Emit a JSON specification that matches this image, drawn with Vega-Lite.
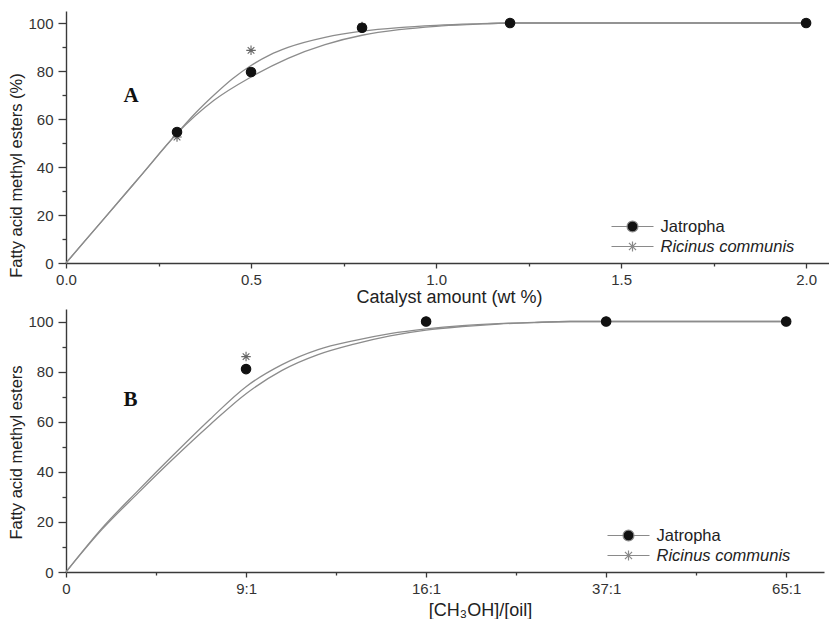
{
  "$schema": "https://vega.github.io/schema/vega-lite/v6.json",
  "padding": {"left": 8, "top": 11, "right": 0, "bottom": 0},
  "background": "white",
  "spacing": 3,
  "config": {
    "view": {"stroke": null},
    "font": "Liberation Sans",
    "axis": {
      "grid": false,
      "domainColor": "#3a3a3a",
      "domainWidth": 1.4,
      "tickColor": "#3a3a3a",
      "tickWidth": 1.3,
      "labelFont": "Liberation Sans",
      "labelFontSize": 15,
      "labelColor": "#333333",
      "titleFont": "Liberation Sans",
      "titleFontSize": 16.5,
      "titleFontWeight": "normal",
      "titleColor": "#222222"
    },
    "axisX": {"titleFontSize": 18}
  },
  "datasets": {
    "curvesA": [
      {"series": "Ricinus communis", "x": 0, "y": 0},
      {"series": "Ricinus communis", "x": 0.1, "y": 18},
      {"series": "Ricinus communis", "x": 0.2, "y": 36},
      {"series": "Ricinus communis", "x": 0.3, "y": 54},
      {"series": "Ricinus communis", "x": 0.35, "y": 62.5},
      {"series": "Ricinus communis", "x": 0.4, "y": 70},
      {"series": "Ricinus communis", "x": 0.45, "y": 76.8},
      {"series": "Ricinus communis", "x": 0.5, "y": 82.3},
      {"series": "Ricinus communis", "x": 0.55, "y": 86.6},
      {"series": "Ricinus communis", "x": 0.6, "y": 89.8},
      {"series": "Ricinus communis", "x": 0.7, "y": 94},
      {"series": "Ricinus communis", "x": 0.8, "y": 96.6},
      {"series": "Ricinus communis", "x": 0.9, "y": 98.1},
      {"series": "Ricinus communis", "x": 1.0, "y": 99},
      {"series": "Ricinus communis", "x": 1.1, "y": 99.6},
      {"series": "Ricinus communis", "x": 1.2, "y": 100},
      {"series": "Ricinus communis", "x": 2.0, "y": 100},
      {"series": "Jatropha", "x": 0, "y": 0},
      {"series": "Jatropha", "x": 0.1, "y": 18},
      {"series": "Jatropha", "x": 0.2, "y": 36},
      {"series": "Jatropha", "x": 0.3, "y": 54},
      {"series": "Jatropha", "x": 0.4, "y": 67.8},
      {"series": "Jatropha", "x": 0.5, "y": 77.5},
      {"series": "Jatropha", "x": 0.6, "y": 85.3},
      {"series": "Jatropha", "x": 0.7, "y": 91},
      {"series": "Jatropha", "x": 0.8, "y": 94.9},
      {"series": "Jatropha", "x": 0.9, "y": 97.2},
      {"series": "Jatropha", "x": 1.0, "y": 98.6},
      {"series": "Jatropha", "x": 1.1, "y": 99.4},
      {"series": "Jatropha", "x": 1.2, "y": 100},
      {"series": "Jatropha", "x": 2.0, "y": 100}
    ],
    "pointsA": [
      {"series": "Ricinus communis", "x": 0.3, "y": 52.5},
      {"series": "Ricinus communis", "x": 0.5, "y": 88.6},
      {"series": "Ricinus communis", "x": 0.8, "y": 98.5},
      {"series": "Ricinus communis", "x": 1.2, "y": 100},
      {"series": "Ricinus communis", "x": 2.0, "y": 100},
      {"series": "Jatropha", "x": 0.3, "y": 54.6},
      {"series": "Jatropha", "x": 0.5, "y": 79.6},
      {"series": "Jatropha", "x": 0.8, "y": 98},
      {"series": "Jatropha", "x": 1.2, "y": 100},
      {"series": "Jatropha", "x": 2.0, "y": 100}
    ],
    "curvesB": [
      {"series": "Ricinus communis", "x": 0, "y": 0},
      {"series": "Ricinus communis", "x": 0.2, "y": 17.5},
      {"series": "Ricinus communis", "x": 0.4, "y": 32.5},
      {"series": "Ricinus communis", "x": 0.6, "y": 47},
      {"series": "Ricinus communis", "x": 0.8, "y": 61},
      {"series": "Ricinus communis", "x": 1.0, "y": 74},
      {"series": "Ricinus communis", "x": 1.2, "y": 82.8},
      {"series": "Ricinus communis", "x": 1.4, "y": 88.8},
      {"series": "Ricinus communis", "x": 1.6, "y": 92.4},
      {"series": "Ricinus communis", "x": 1.8, "y": 95.2},
      {"series": "Ricinus communis", "x": 2.0, "y": 97.1},
      {"series": "Ricinus communis", "x": 2.2, "y": 98.4},
      {"series": "Ricinus communis", "x": 2.4, "y": 99.2},
      {"series": "Ricinus communis", "x": 2.6, "y": 99.7},
      {"series": "Ricinus communis", "x": 2.8, "y": 100},
      {"series": "Ricinus communis", "x": 4.0, "y": 100},
      {"series": "Jatropha", "x": 0, "y": 0},
      {"series": "Jatropha", "x": 0.2, "y": 17},
      {"series": "Jatropha", "x": 0.4, "y": 31.5},
      {"series": "Jatropha", "x": 0.6, "y": 45.5},
      {"series": "Jatropha", "x": 0.8, "y": 58.8},
      {"series": "Jatropha", "x": 1.0, "y": 71.2},
      {"series": "Jatropha", "x": 1.2, "y": 80.5},
      {"series": "Jatropha", "x": 1.4, "y": 86.8},
      {"series": "Jatropha", "x": 1.6, "y": 91},
      {"series": "Jatropha", "x": 1.8, "y": 94.3},
      {"series": "Jatropha", "x": 2.0, "y": 96.6},
      {"series": "Jatropha", "x": 2.2, "y": 98},
      {"series": "Jatropha", "x": 2.4, "y": 99},
      {"series": "Jatropha", "x": 2.6, "y": 99.6},
      {"series": "Jatropha", "x": 2.8, "y": 100},
      {"series": "Jatropha", "x": 4.0, "y": 100}
    ],
    "pointsB": [
      {"series": "Ricinus communis", "x": 1, "y": 86},
      {"series": "Ricinus communis", "x": 2, "y": 100},
      {"series": "Ricinus communis", "x": 3, "y": 100},
      {"series": "Ricinus communis", "x": 4, "y": 100},
      {"series": "Jatropha", "x": 1, "y": 81},
      {"series": "Jatropha", "x": 2, "y": 100},
      {"series": "Jatropha", "x": 3, "y": 100},
      {"series": "Jatropha", "x": 4, "y": 100}
    ],
    "labels": [
      {"panel": "A", "x": 0.176, "y": 69.7, "text": "A"},
      {"panel": "B", "x": 0.358, "y": 68.8, "text": "B"}
    ]
  },
  "resolve": {"scale": {"shape": "independent"}, "legend": {"shape": "independent"}},
  "vconcat": [
    {
      "width": 766,
      "height": 252,
      "resolve": {"scale": {"shape": "independent"}, "legend": {"shape": "independent"}},
      "encoding": {
        "x": {
          "field": "x", "type": "quantitative",
          "scale": {"domain": [0, 2.07], "nice": false, "zero": false},
          "axis": {
            "title": "Catalyst amount (wt %)",
            "values": [0, 0.25, 0.5, 0.75, 1.0, 1.25, 1.5, 1.75, 2.0],
            "format": ".1f",
            "labelExpr": "round(datum.value*4) % 2 === 0 ? datum.label : ''",
            "tickSize": {"condition": {"test": "round(datum.value*4) % 2 === 0", "value": 5}, "value": 3},
            "labelFlush": false,
            "labelPadding": 4,
            "titlePadding": 1
          }
        },
        "y": {
          "field": "y", "type": "quantitative",
          "scale": {"domain": [0, 105], "nice": false},
          "axis": {
            "title": "Fatty acid methyl esters (%)",
            "values": [0, 10, 20, 30, 40, 50, 60, 70, 80, 90, 100],
            "labelExpr": "datum.value % 20 === 0 ? datum.label : ''",
            "tickSize": {"condition": {"test": "datum.value % 20 === 0", "value": 8}, "value": 4},
            "labelPadding": 5,
            "titlePadding": 3,
            "titleY": 164
          }
        }
      },
      "layer": [
        {
          "data": {"name": "curvesA"},
          "mark": {"type": "line", "interpolate": "monotone", "stroke": "#8c8c8c", "strokeWidth": 1.3},
          "encoding": {"detail": {"field": "series"}}
        },
        {
          "data": {"name": "pointsA"},
          "mark": {"type": "point", "filled": true, "size": 90, "strokeWidth": 1.1, "opacity": 1},
          "encoding": {
            "shape": {
              "field": "series", "type": "nominal",
              "scale": {"domain": ["Jatropha", "Ricinus communis"], "range": ["circle", "M0,-1L0,1M-1,0L1,0M-0.7,-0.7L0.7,0.7M-0.7,0.7L0.7,-0.7"]},
              "legend": null
            },
            "fill": {"value": "#111111"},
            "stroke": {"condition": {"test": "datum.series === 'Jatropha'", "value": "#111111"}, "value": "#666666"}
          }
        },
        {
          "data": {"name": "pointsA"},
          "transform": [{"filter": "datum.series === 'legend only'"}],
          "mark": {"type": "point", "filled": true, "size": 441, "fill": "#111111", "stroke": "#8a8a8a", "strokeWidth": 1.2, "opacity": 1},
          "encoding": {
            "shape": {
              "field": "series", "type": "nominal",
              "scale": {"domain": ["Jatropha", "Ricinus communis"], "range": ["M-2,0L-0.52,0M0.52,0L2,0M-0.52,0A0.52,0.52 0 1,0 0.52,0A0.52,0.52 0 1,0 -0.52,0Z", "M-2,0L2,0M0,-0.48L0,0.48M-0.34,-0.34L0.34,0.34M-0.34,0.34L0.34,-0.34"]},
              "legend": {
                "title": "\u00a0", "titleOrient": "right", "titlePadding": 30, "titleFontSize": 10,
                "orient": "bottom-right", "offset": 8, "padding": 0, "rowPadding": 0,
                "symbolSize": 441, "symbolStrokeWidth": 1.2, "symbolOpacity": 1,
                "labelFontSize": 16.5, "labelFont": "Liberation Sans", "labelColor": "#222222", "labelOffset": 16.5,
                "labelFontStyle": {"expr": "datum.value === 'Ricinus communis' ? 'italic' : 'normal'"}
              }
            }
          }
        },
        {
          "data": {"name": "labels"},
          "transform": [{"filter": "datum.panel === 'A'"}],
          "mark": {"type": "text", "font": "Liberation Serif", "fontWeight": "bold", "fontSize": 21, "color": "#111111"},
          "encoding": {"text": {"field": "text"}}
        }
      ]
    },
    {
      "width": 758,
      "height": 263,
      "resolve": {"scale": {"shape": "independent"}, "legend": {"shape": "independent"}},
      "encoding": {
        "x": {
          "field": "x", "type": "quantitative",
          "scale": {"domain": [0, 4.21], "nice": false, "zero": false},
          "axis": {
            "title": "[CH₃OH]/[oil]",
            "values": [0, 0.5, 1, 1.5, 2, 2.5, 3, 3.5, 4],
            "labelExpr": "datum.value === 0 ? '0' : datum.value === 1 ? '9:1' : datum.value === 2 ? '16:1' : datum.value === 3 ? '37:1' : datum.value === 4 ? '65:1' : ''",
            "tickSize": {"condition": {"test": "round(datum.value*2) % 2 === 0", "value": 5}, "value": 3},
            "labelFlush": false,
            "labelPadding": 4,
            "titlePadding": 5,
            "titleX": 414
          }
        },
        "y": {
          "field": "y", "type": "quantitative",
          "scale": {"domain": [0, 105], "nice": false},
          "axis": {
            "title": "Fatty acid methyl esters",
            "values": [0, 10, 20, 30, 40, 50, 60, 70, 80, 90, 100],
            "labelExpr": "datum.value % 20 === 0 ? datum.label : ''",
            "tickSize": {"condition": {"test": "datum.value % 20 === 0", "value": 8}, "value": 4},
            "labelPadding": 5,
            "titlePadding": 3,
            "titleY": 143
          }
        }
      },
      "layer": [
        {
          "data": {"name": "curvesB"},
          "mark": {"type": "line", "interpolate": "monotone", "stroke": "#8c8c8c", "strokeWidth": 1.3},
          "encoding": {"detail": {"field": "series"}}
        },
        {
          "data": {"name": "pointsB"},
          "mark": {"type": "point", "filled": true, "size": 90, "strokeWidth": 1.1, "opacity": 1},
          "encoding": {
            "shape": {
              "field": "series", "type": "nominal",
              "scale": {"domain": ["Jatropha", "Ricinus communis"], "range": ["circle", "M0,-1L0,1M-1,0L1,0M-0.7,-0.7L0.7,0.7M-0.7,0.7L0.7,-0.7"]},
              "legend": null
            },
            "fill": {"value": "#111111"},
            "stroke": {"condition": {"test": "datum.series === 'Jatropha'", "value": "#111111"}, "value": "#666666"}
          }
        },
        {
          "data": {"name": "pointsB"},
          "transform": [{"filter": "datum.series === 'legend only'"}],
          "mark": {"type": "point", "filled": true, "size": 441, "fill": "#111111", "stroke": "#8a8a8a", "strokeWidth": 1.2, "opacity": 1},
          "encoding": {
            "shape": {
              "field": "series", "type": "nominal",
              "scale": {"domain": ["Jatropha", "Ricinus communis"], "range": ["M-2,0L-0.52,0M0.52,0L2,0M-0.52,0A0.52,0.52 0 1,0 0.52,0A0.52,0.52 0 1,0 -0.52,0Z", "M-2,0L2,0M0,-0.48L0,0.48M-0.34,-0.34L0.34,0.34M-0.34,0.34L0.34,-0.34"]},
              "legend": {
                "title": "\u00a0", "titleOrient": "right", "titlePadding": 26, "titleFontSize": 10,
                "orient": "bottom-right", "offset": 8, "padding": 0, "rowPadding": 0,
                "symbolSize": 441, "symbolStrokeWidth": 1.2, "symbolOpacity": 1,
                "labelFontSize": 16.5, "labelFont": "Liberation Sans", "labelColor": "#222222", "labelOffset": 16.5,
                "labelFontStyle": {"expr": "datum.value === 'Ricinus communis' ? 'italic' : 'normal'"}
              }
            }
          }
        },
        {
          "data": {"name": "labels"},
          "transform": [{"filter": "datum.panel === 'B'"}],
          "mark": {"type": "text", "font": "Liberation Serif", "fontWeight": "bold", "fontSize": 21, "color": "#111111"},
          "encoding": {"text": {"field": "text"}}
        }
      ]
    }
  ]
}
